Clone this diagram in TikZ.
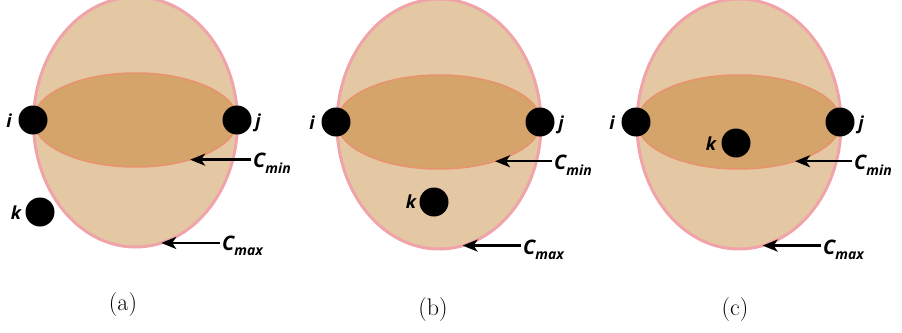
\documentclass[tikz,border=0pt]{standalone}
\usepackage{fontspec}
\newfontfamily\lblfont{Open Sans}
\usetikzlibrary{shapes.geometric,arrows.meta}
\definecolor{outerfill}{HTML}{E4C8A3}
\definecolor{outerline}{HTML}{F0A4AA}
\definecolor{innerfill}{HTML}{D4A46A}
\definecolor{innerline}{HTML}{E8926E}
\tikzset{
  outerell/.style={ellipse, draw=outerline, line width=3pt, fill=outerfill,
    minimum width=204, minimum height=250, inner sep=0pt, outer sep=0pt},
  innerell/.style={ellipse, draw=innerline, line width=1.5pt, fill=innerfill,
    minimum width=204, minimum height=94, inner sep=0pt, outer sep=0pt},
  blackdot/.style={circle, fill=black, minimum size=29pt, inner sep=0pt},
  vlab/.style={font=\lblfont\bfseries\itshape\fontsize{18}{18}\selectfont,
    inner sep=0pt, anchor=base},
  clab/.style={font=\lblfont\bfseries\itshape\fontsize{20}{20}\selectfont,
    inner sep=2pt, anchor=base west},
  arr/.style={-{Stealth[length=15pt,width=12pt,inset=4pt]}, line width=2.4pt, black},
  subcaption/.style={font=\fontsize{24}{24}\selectfont, inner sep=0pt}
}
\newcommand\subm[1]{\raisebox{-5.5pt}{\fontsize{14}{14}\selectfont #1}}
\begin{document}
\begin{tikzpicture}[x=1pt,y=-1pt]
\useasboundingbox (0,0) rectangle (902,332);
\clip (0,0) rectangle (902,332);
% ---------- panel (a)
\node[outerell] (oa) at (135.5,122) {};
\node[innerell] (ia) at (135.5,120) {};
\node[blackdot] (ai) at (33,120) {};
\node[blackdot] (aj) at (237,120) {};
\node[blackdot] (ak) at (40,212) {};
\node[vlab] (ali) at (9,127) {i};
\node[vlab] (alj) at (258,127) {j};
\node[vlab] (alk) at (16,219) {k};
\node[clab] (amin) at (251,167.5) {C\subm{min}};
\node[clab] (amax) at (220,250) {C\subm{max}};
\coordinate (atmin) at (ia.-36.6);
\coordinate (atmax) at (oa.-78.6);
\draw[arr] (amin.west |- atmin) -- (atmin);
\draw[arr] (amax.west |- atmax) -- (atmax);
\node[subcaption] (capa) at (123,305) {(a)};
% ---------- panel (b)
\node[outerell] (ob) at (439,124) {};
\node[innerell] (ib) at (439,122) {};
\node[blackdot] (bi) at (336,122) {};
\node[blackdot] (bj) at (540,122) {};
\node[blackdot] (bk) at (434,202) {};
\node[vlab] (bli) at (312,129) {i};
\node[vlab] (blj) at (561,129) {j};
\node[vlab] (blk) at (411,208) {k};
\node[clab] (bmin) at (552,169.5) {C\subm{min}};
\node[clab] (bmax) at (521,254) {C\subm{max}};
\coordinate (btmin) at (ib.-35.5);
\coordinate (btmax) at (ob.-79);
\draw[arr] (bmin.west |- btmin) -- (btmin);
\draw[arr] (bmax.west |- btmax) -- (btmax);
\node[subcaption] (capb) at (433,310) {(b)};
% ---------- panel (c)
\node[outerell] (oc) at (739,124) {};
\node[innerell] (ic) at (739,122) {};
\node[blackdot] (ci) at (636,122) {};
\node[blackdot] (cj) at (840,122) {};
\node[blackdot] (ck) at (736,143) {};
\node[vlab] (cli) at (612,129) {i};
\node[vlab] (clj) at (861,129) {j};
\node[vlab] (clk) at (711,150) {k};
\node[clab] (cmin) at (852,169.5) {C\subm{min}};
\node[clab] (cmax) at (821,254) {C\subm{max}};
\coordinate (ctmin) at (ic.-35.5);
\coordinate (ctmax) at (oc.-79);
\draw[arr] (cmin.west |- ctmin) -- (ctmin);
\draw[arr] (cmax.west |- ctmax) -- (ctmax);
\node[subcaption] (capc) at (735,310) {(c)};
\end{tikzpicture}
\end{document}
